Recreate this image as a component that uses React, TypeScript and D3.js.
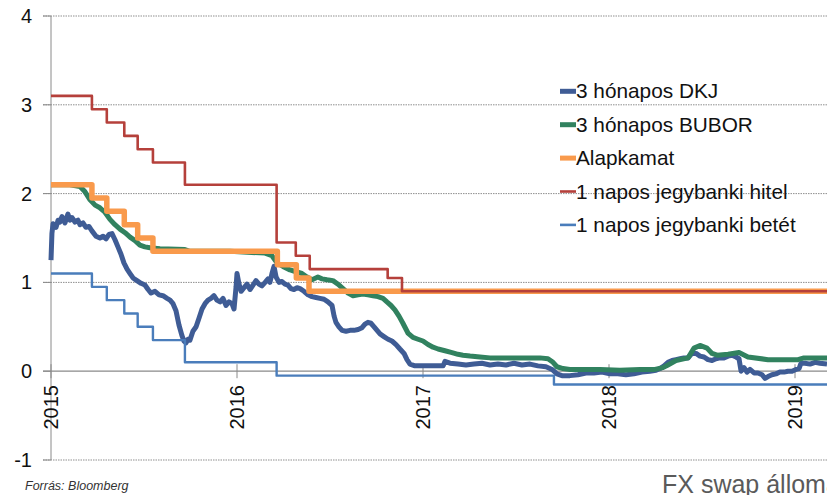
import React from "react";
import * as d3 from "d3";

const W = 827;
const H = 495;

// x values are fractional years
const yearTicks = [2015, 2016, 2017, 2018, 2019];
const yTicks = [-1, 0, 1, 2, 3, 4];

const seriesNames = [
  "3 hónapos DKJ",
  "3 hónapos BUBOR",
  "Alapkamat",
  "1 napos jegybanki hitel",
  "1 napos jegybanki betét",
];
const seriesColors = ["#3F5C95", "#31825F", "#F99A4C", "#B5403B", "#4A7DBB"];
const seriesWidths = [5, 5, 5.5, 2.6, 2.4];

const dkjYears = [
  2015.0, 2015.005, 2015.011, 2015.027, 2015.038, 2015.048, 2015.059, 2015.075, 2015.091, 2015.102,
  2015.113, 2015.129, 2015.145, 2015.156, 2015.172, 2015.188, 2015.204, 2015.22, 2015.242, 2015.263,
  2015.28, 2015.296, 2015.312, 2015.328, 2015.344, 2015.36, 2015.376, 2015.392, 2015.409, 2015.425,
  2015.441, 2015.462, 2015.484, 2015.505, 2015.522, 2015.538, 2015.559, 2015.581, 2015.602, 2015.624,
  2015.64, 2015.656, 2015.672, 2015.688, 2015.704, 2015.715, 2015.726, 2015.737, 2015.747, 2015.763,
  2015.78, 2015.796, 2015.812, 2015.828, 2015.844, 2015.86, 2015.876, 2015.892, 2015.909, 2015.925,
  2015.941, 2015.957, 2015.973, 2015.984, 2015.995, 2016.0, 2016.011, 2016.022, 2016.038, 2016.054,
  2016.07, 2016.086, 2016.102, 2016.118, 2016.134, 2016.151, 2016.167, 2016.177, 2016.188, 2016.199,
  2016.21, 2016.226, 2016.242, 2016.258, 2016.274, 2016.29, 2016.306, 2016.323, 2016.339, 2016.36,
  2016.382, 2016.403, 2016.425, 2016.446, 2016.468, 2016.489, 2016.511, 2016.522, 2016.532, 2016.548,
  2016.565, 2016.586, 2016.608, 2016.629, 2016.651, 2016.672, 2016.688, 2016.704, 2016.72, 2016.737,
  2016.753, 2016.769, 2016.79, 2016.812, 2016.833, 2016.855, 2016.876, 2016.898, 2016.914, 2016.93,
  2016.957, 2017.011, 2017.065, 2017.108, 2017.118, 2017.145, 2017.188, 2017.231, 2017.274, 2017.317,
  2017.36, 2017.403, 2017.446, 2017.489, 2017.532, 2017.575, 2017.618, 2017.661, 2017.694, 2017.72,
  2017.747, 2017.79, 2017.833, 2017.876, 2017.919, 2017.962, 2018.005, 2018.048, 2018.091, 2018.134,
  2018.177, 2018.22, 2018.253, 2018.274, 2018.296, 2018.317, 2018.339, 2018.36, 2018.382, 2018.403,
  2018.425, 2018.446, 2018.468, 2018.489, 2018.511, 2018.532, 2018.554, 2018.575, 2018.597, 2018.618,
  2018.64, 2018.661, 2018.683, 2018.699, 2018.71, 2018.726, 2018.742, 2018.758, 2018.78, 2018.801,
  2018.823, 2018.839, 2018.855, 2018.876, 2018.898, 2018.919, 2018.941, 2018.962, 2018.984, 2019.005,
  2019.022, 2019.032, 2019.054, 2019.081, 2019.108, 2019.134, 2019.172,
];
const dkjValues = [
  1.25, 1.55, 1.66, 1.62, 1.7, 1.68, 1.74, 1.67, 1.77, 1.7,
  1.73, 1.68, 1.7, 1.65, 1.67, 1.62, 1.63, 1.58, 1.52, 1.5,
  1.52, 1.49, 1.54, 1.55, 1.48, 1.4, 1.32, 1.22, 1.15, 1.1,
  1.05, 1.02, 0.99, 0.97, 0.92, 0.88, 0.9, 0.86, 0.85, 0.82,
  0.8, 0.76, 0.68, 0.52, 0.4, 0.34, 0.32, 0.36, 0.35, 0.45,
  0.5, 0.6, 0.7, 0.76, 0.8, 0.82, 0.85, 0.8, 0.78, 0.82,
  0.74, 0.78, 0.76, 0.7, 0.95, 1.1, 0.98, 0.9, 0.94, 0.98,
  0.92, 0.97, 1.02, 0.98, 0.96, 1.0, 1.04, 1.0, 1.1, 1.18,
  1.06, 1.0, 1.01, 0.98, 0.97, 0.93, 0.92, 0.94, 0.93, 0.9,
  0.86, 0.84, 0.83, 0.82, 0.81, 0.78, 0.74, 0.62, 0.55, 0.5,
  0.46, 0.45, 0.46, 0.46, 0.47, 0.49, 0.53, 0.55, 0.54, 0.5,
  0.46, 0.42, 0.39, 0.36, 0.34, 0.3, 0.25, 0.2, 0.13, 0.08,
  0.06, 0.06, 0.06, 0.06, 0.11, 0.09, 0.08, 0.07, 0.08, 0.09,
  0.07, 0.08, 0.07, 0.09, 0.07, 0.08, 0.06, 0.05, 0.02, -0.03,
  -0.05, -0.05, -0.04, -0.02, -0.02, -0.01, -0.03, -0.03, -0.04, -0.03,
  -0.01, 0.0, 0.01, 0.03, 0.06, 0.1, 0.12, 0.13, 0.14, 0.15,
  0.15, 0.2, 0.2, 0.17, 0.16, 0.13, 0.12, 0.14, 0.15, 0.15,
  0.17, 0.18, 0.16, 0.14, 0.0, 0.04, -0.01, 0.02, -0.02, -0.02,
  -0.04, -0.08, -0.06, -0.04, -0.03, -0.01, -0.01, 0.0, 0.0, 0.02,
  0.03, 0.09, 0.09, 0.08, 0.1, 0.09, 0.08,
];

const buborYears = [
  2015.0, 2015.102, 2015.156, 2015.183, 2015.21, 2015.237, 2015.263, 2015.29, 2015.317, 2015.344,
  2015.371, 2015.398, 2015.425, 2015.452, 2015.478, 2015.505, 2015.532, 2015.586, 2015.72, 2015.747,
  2015.962, 2016.151, 2016.188, 2016.215, 2016.247, 2016.285, 2016.317, 2016.349, 2016.376, 2016.403,
  2016.435, 2016.457, 2016.484, 2016.516, 2016.543, 2016.57, 2016.597, 2016.624, 2016.651, 2016.677,
  2016.704, 2016.731, 2016.758, 2016.785, 2016.806, 2016.828, 2016.849, 2016.871, 2016.892, 2016.919,
  2016.946, 2016.973, 2017.0, 2017.027, 2017.054, 2017.081, 2017.118, 2017.156, 2017.188, 2017.215,
  2017.253, 2017.306, 2017.36, 2017.414, 2017.468, 2017.522, 2017.575, 2017.629, 2017.672, 2017.699,
  2017.72, 2017.753, 2017.79, 2017.844, 2017.952, 2018.059, 2018.167, 2018.247, 2018.29, 2018.317,
  2018.36, 2018.425, 2018.457, 2018.489, 2018.527, 2018.554, 2018.581, 2018.64, 2018.699, 2018.747,
  2018.855, 2019.016, 2019.048, 2019.172,
];
const buborValues = [
  2.1, 2.1, 2.08, 2.02, 1.93, 1.87, 1.84, 1.79, 1.71, 1.65,
  1.6, 1.56, 1.51, 1.47, 1.42, 1.4, 1.39, 1.38, 1.37, 1.35,
  1.35, 1.33, 1.3, 1.22, 1.18, 1.14, 1.12, 1.1, 1.06, 1.03,
  1.06, 1.04, 1.03, 1.02, 0.98, 0.93, 0.88, 0.85, 0.86, 0.87,
  0.86, 0.85, 0.84, 0.82, 0.78, 0.74, 0.69, 0.62, 0.54, 0.43,
  0.38, 0.36, 0.34, 0.3, 0.27, 0.25, 0.23, 0.21, 0.19, 0.18,
  0.17, 0.16, 0.15, 0.15, 0.15, 0.15, 0.15, 0.15, 0.14, 0.1,
  0.05, 0.03, 0.02, 0.02, 0.02, 0.01, 0.02, 0.02, 0.04, 0.07,
  0.12, 0.15, 0.26, 0.29, 0.26, 0.2, 0.18, 0.19, 0.21, 0.16,
  0.13, 0.13, 0.15, 0.15,
];

// step series: value holds from its year until the next one
const baseYears = [2015.0, 2015.22, 2015.3, 2015.394, 2015.466, 2015.548, 2016.217, 2016.319, 2016.387, 2019.172];
const baseValues = [2.1, 1.95, 1.8, 1.65, 1.5, 1.35, 1.2, 1.05, 0.9, 0.9];

const lendYears = [2015.0, 2015.22, 2015.3, 2015.394, 2015.466, 2015.548, 2015.72, 2016.213, 2016.316, 2016.391, 2016.81, 2016.887, 2019.172];
const lendValues = [3.1, 2.95, 2.8, 2.65, 2.5, 2.35, 2.1, 1.45, 1.3, 1.15, 1.05, 0.9, 0.9];

const depYears = [2015.0, 2015.22, 2015.3, 2015.394, 2015.466, 2015.548, 2015.72, 2016.213, 2017.704, 2019.172];
const depValues = [1.1, 0.95, 0.8, 0.65, 0.5, 0.35, 0.1, -0.05, -0.15, -0.15];

const FONT = "'Liberation Sans', Arial, sans-serif";

export default function App() {
  const x = d3.scaleLinear().domain([2015, 2019.172]).range([51, 827]);
  const y = d3.scaleLinear().domain([-1, 4]).range([460, 16]);

  const zip = (xs: number[], vs: number[]) => xs.map((t, i) => [t, vs[i]] as [number, number]);
  const smooth = d3.line<[number, number]>().x((d) => x(d[0])).y((d) => y(d[1])).curve(d3.curveLinear);
  const step = d3.line<[number, number]>().x((d) => x(d[0])).y((d) => y(d[1])).curve(d3.curveStepAfter);

  const paths = [
    { d: smooth(zip(dkjYears, dkjValues)), i: 0 },
    { d: smooth(zip(buborYears, buborValues)), i: 1 },
    { d: step(zip(baseYears, baseValues)), i: 2 },
    { d: step(zip(lendYears, lendValues)), i: 3 },
    { d: step(zip(depYears, depValues)), i: 4 },
  ];

  const x0 = x(2015);
  return (
    <svg
      width={W}
      height={H}
      style={{ position: "fixed", left: 0, top: 0, background: "#fff" }}
      fontFamily={FONT}
    >
      {/* gridlines */}
      {yTicks.filter((t) => t !== 0).map((t) => (
        <line key={t} x1={43} x2={W} y1={y(t)} y2={y(t)} stroke="#8f8f8f" strokeWidth={1} strokeDasharray="1.5,1" />
      ))}
      {/* y axis */}
      <line x1={x0} x2={x0} y1={y(4)} y2={y(-1)} stroke="#8a8a8a" strokeWidth={1} />
      {/* zero axis */}
      <line x1={43} x2={W} y1={y(0)} y2={y(0)} stroke="#8a8a8a" strokeWidth={1.2} />
      {yTicks.map((t) => (
        <line key={"yt" + t} x1={43} x2={x0} y1={y(t)} y2={y(t)} stroke="#8a8a8a" strokeWidth={1} />
      ))}
      {yearTicks.map((t) => (
        <line key={"xt" + t} x1={x(t)} x2={x(t)} y1={y(0) - 7} y2={y(0) + 7} stroke="#8a8a8a" strokeWidth={1} />
      ))}
      {/* y labels */}
      {yTicks.map((t) => (
        <text key={"yl" + t} x={32} y={y(t) + 7} textAnchor="end" fontSize={20} fill="#111">
          {t}
        </text>
      ))}
      {/* x labels */}
      {yearTicks.map((t) => (
        <text
          key={"xl" + t}
          transform={`translate(${x(t) + 7},385) rotate(-90)`}
          textAnchor="end"
          fontSize={20}
          fill="#111"
        >
          {t}
        </text>
      ))}
      {/* series */}
      {paths.map((p) => (
        <path
          key={p.i}
          d={p.d || ""}
          fill="none"
          stroke={seriesColors[p.i]}
          strokeWidth={seriesWidths[p.i]}
          strokeLinejoin="round"
          strokeLinecap="butt"
        />
      ))}
      {/* legend */}
      {seriesNames.map((n, i) => {
        const cy = 91.3 + i * 33.4;
        return (
          <g key={n}>
            <line x1={560} x2={576} y1={cy} y2={cy} stroke={seriesColors[i]} strokeWidth={seriesWidths[i] > 4 ? 5 : 2.6} />
            <text x={576} y={cy + 7} fontSize={20.8} fill="#111">
              {n}
            </text>
          </g>
        );
      })}
      <text x={25} y={490} fontSize={12.5} fontStyle="italic" fill="#333">
        Forrás: Bloomberg
      </text>
      <text x={662} y={493} fontSize={25} fill="#5a5a5a">
        FX swap állomány
      </text>
    </svg>
  );
}
